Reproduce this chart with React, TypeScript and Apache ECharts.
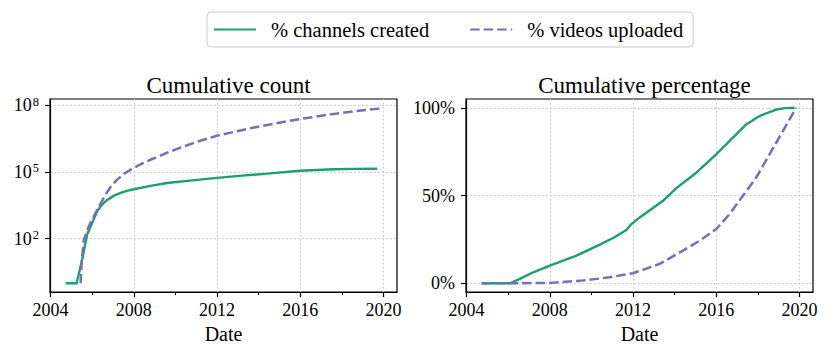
import React, { useEffect, useRef } from "react";
import * as echarts from "echarts";

// ---------- data ----------
const legendNames = ["% channels created", "% videos uploaded"];
const panelTitles = ["Cumulative count", "Cumulative percentage"];
const xAxisName = "Date";

// left panel: cumulative counts (log scale)
const countYearsChannels = [
  2004.72, 2005.25, 2005.52, 2005.76, 2006.0, 2006.24, 2006.4, 2006.56, 2006.72, 2006.88,
  2007.1, 2007.37, 2007.7, 2008.0, 2008.8, 2009.6, 2010.8, 2012.0, 2013.2, 2014.4,
  2016.0, 2017.6, 2018.6, 2019.7,
];
const countChannels = [
  1, 1, 12, 160, 525, 1740, 2800, 4100, 5500, 6800,
  9100, 11500, 14500, 16600, 23400, 31600, 41700, 53700, 67600, 83200,
  112000, 132000, 136000, 138000,
];
const countYearsVideos = [
  2005.44, 2005.5, 2005.6, 2005.84, 2006.24, 2006.64, 2006.9, 2007.2, 2007.5, 2007.85,
  2008.3, 2008.8, 2009.6, 2010.4, 2011.2, 2012.0, 2013.6, 2014.8, 2016.0, 2017.6,
  2018.8, 2019.94,
];
const countVideos = [
  1, 12, 93, 370, 2000, 9500, 22000, 45000, 79000, 126000,
  214000, 350000, 720000, 1400000, 2500000, 4200000, 9100000, 15000000, 23500000, 40000000,
  55000000, 71000000,
];

// right panel: cumulative percentage
const pctYearsChannels = [
  2004.72, 2006.08, 2006.56, 2007.2, 2008.0, 2009.28, 2010.4, 2011.04, 2011.68, 2011.92,
  2012.32, 2013.44, 2014.08, 2015.04, 2016.0, 2016.8, 2017.44, 2018.08, 2018.88, 2019.3,
  2019.76,
];
const pctChannels = [
  0, 0, 2.5, 6.25, 10, 15.7, 22, 25.8, 30.3, 33.7,
  37.5, 47, 54.2, 63, 73.5, 83, 90.5, 95.3, 99, 99.8,
  100,
];
const pctYearsVideos = [
  2004.72, 2006.8, 2008.0, 2009.6, 2010.88, 2012.0, 2013.28, 2014.4, 2015.2, 2016.0,
  2016.64, 2017.28, 2017.92, 2018.56, 2019.2, 2019.84,
];
const pctVideos = [
  0, 0.05, 0.2, 1.5, 3.4, 5.7, 11, 18.6, 24.2, 30.9,
  39.4, 49.8, 60.2, 73.5, 86.7, 100,
];

// ticks
const xMajorTicks = [2004, 2008, 2012, 2016, 2020];
const xMinorTicks = [2006, 2010, 2014, 2018];
const logTickExponents = [2, 5, 8];
const pctTicks = [0, 50, 100];

// ---------- style ----------
const FONT = "'Liberation Serif', 'Times New Roman', serif";
const GREEN = "#1b9e77";
const PURPLE = "#7570b3";
const GRIDLINE = { show: true, lineStyle: { color: "#c4c4c4", width: 1, type: [1.5, 2.5] } };
const X_MIN = 2003.97;
const X_MAX = 2020.65;
const DASH = [9.5, 4];

function pairs(xs: number[], ys: number[], f: (v: number) => number = (v) => v) {
  return xs.map((x, i) => [x, f(ys[i])]);
}

function majorX(gridIndex: number) {
  return {
    type: "value",
    gridIndex,
    min: X_MIN,
    max: X_MAX,
    position: "bottom",
    name: xAxisName,
    nameLocation: "middle",
    nameGap: 31,
    nameTextStyle: { fontFamily: FONT, fontSize: 20, color: "#000" },
    axisLine: { show: true, onZero: false, lineStyle: { color: "#000", width: 1.2 } },
    axisTick: { show: true, length: 5, customValues: xMajorTicks, lineStyle: { color: "#000", width: 1.2 } },
    axisLabel: {
      show: true,
      customValues: xMajorTicks,
      formatter: (v: number) => String(Math.round(v)),
      margin: 9,
      fontFamily: FONT,
      fontSize: 18,
      color: "#000",
    },
    splitLine: GRIDLINE,
  };
}

function minorX(gridIndex: number) {
  return {
    type: "value",
    gridIndex,
    min: X_MIN,
    max: X_MAX,
    position: "bottom",
    axisLine: { show: false, onZero: false },
    axisTick: { show: true, length: 3, customValues: xMinorTicks, lineStyle: { color: "#000", width: 1 } },
    axisLabel: { show: false },
    splitLine: { show: false },
  };
}

export default function App() {
  const ref = useRef<HTMLDivElement>(null);

  useEffect(() => {
    document.body.style.margin = "0";
    if (!ref.current) return;
    const chart = echarts.init(ref.current, undefined, { renderer: "svg" });

    const titleStyle = { fontFamily: FONT, fontSize: 23, fontWeight: "normal", color: "#000" };

    const option: any = {
      animation: false,
      backgroundColor: "#fff",
      title: [
        { text: panelTitles[0], left: 223.5, top: 69, textAlign: "center", textStyle: titleStyle },
        { text: panelTitles[1], left: 639.5, top: 69, textAlign: "center", textStyle: titleStyle },
      ],
      legend: {
        data: legendNames,
        left: 207,
        top: 12,
        orient: "horizontal",
        itemWidth: 42,
        itemHeight: 14,
        itemGap: 40,
        padding: [7, 10, 7, 6],
        borderColor: "#cccccc",
        borderWidth: 1,
        borderRadius: 4,
        backgroundColor: "#fff",
        itemStyle: { opacity: 0, borderWidth: 0 },
        textStyle: { fontFamily: FONT, fontSize: 20.5, color: "#000", padding: [0, 0, 0, 10] },
      },
      grid: [
        { left: 50, top: 99, width: 347, height: 193, show: true, borderColor: "#000", borderWidth: 1.2, backgroundColor: "transparent", outerBoundsMode: "none" },
        { left: 466, top: 99, width: 347, height: 193, show: true, borderColor: "#000", borderWidth: 1.2, backgroundColor: "transparent", outerBoundsMode: "none" },
      ],
      xAxis: [majorX(0), majorX(1), minorX(0), minorX(1)],
      yAxis: [
        {
          type: "value",
          gridIndex: 0,
          min: -0.39,
          max: 8.27,
          axisLine: { show: true, onZero: false, lineStyle: { color: "#000", width: 1.2 } },
          axisTick: { show: true, length: 5, customValues: logTickExponents, lineStyle: { color: "#000", width: 1.2 } },
          axisLabel: {
            show: true,
            customValues: logTickExponents,
            margin: 11,
            formatter: (v: number) => `{b|10}{s|${Math.round(v)}}`,
            rich: {
              b: { fontFamily: FONT, fontSize: 18, color: "#000", lineHeight: 20 },
              s: { fontFamily: FONT, fontSize: 12.5, color: "#000", verticalAlign: "top", lineHeight: 12, padding: [0, 0, 0, 1] },
            },
          },
          splitLine: GRIDLINE,
        },
        {
          type: "value",
          gridIndex: 1,
          min: -5,
          max: 105,
          axisLine: { show: true, onZero: false, lineStyle: { color: "#000", width: 1.2 } },
          axisTick: { show: true, length: 5, customValues: pctTicks, lineStyle: { color: "#000", width: 1.2 } },
          axisLabel: {
            show: true,
            customValues: pctTicks,
            margin: 11,
            formatter: (v: number) => `${Math.round(v)}%`,
            fontFamily: FONT,
            fontSize: 18,
            color: "#000",
          },
          splitLine: GRIDLINE,
        },
      ],
      series: [
        {
          type: "line",
          name: legendNames[0],
          xAxisIndex: 0,
          yAxisIndex: 0,
          data: pairs(countYearsChannels, countChannels, Math.log10),
          symbol: "none",
          showSymbol: false,
          itemStyle: { color: GREEN },
          lineStyle: { color: GREEN, width: 2.4 },
          z: 3,
        },
        {
          type: "line",
          name: legendNames[1],
          xAxisIndex: 0,
          yAxisIndex: 0,
          data: pairs(countYearsVideos, countVideos, Math.log10),
          symbol: "none",
          showSymbol: false,
          itemStyle: { color: PURPLE },
          lineStyle: { color: PURPLE, width: 2.5, type: DASH },
          z: 4,
        },
        {
          type: "line",
          name: legendNames[0],
          xAxisIndex: 1,
          yAxisIndex: 1,
          data: pairs(pctYearsChannels, pctChannels),
          symbol: "none",
          showSymbol: false,
          itemStyle: { color: GREEN },
          lineStyle: { color: GREEN, width: 2.4 },
          z: 3,
        },
        {
          type: "line",
          name: legendNames[1],
          xAxisIndex: 1,
          yAxisIndex: 1,
          data: pairs(pctYearsVideos, pctVideos),
          symbol: "none",
          showSymbol: false,
          itemStyle: { color: PURPLE },
          lineStyle: { color: PURPLE, width: 2.5, type: DASH },
          z: 4,
        },
      ],
    };

    chart.setOption(option);
    return () => chart.dispose();
  }, []);

  return <div ref={ref} style={{ width: 831, height: 357 }} />;
}
